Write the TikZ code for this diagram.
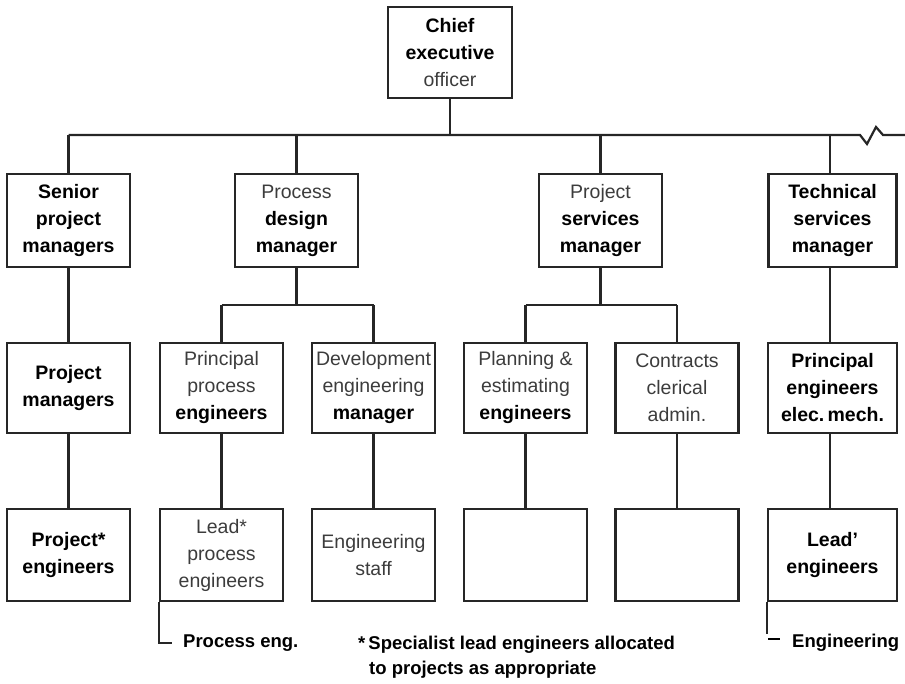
\documentclass[tikz,border=0pt]{standalone}
\usepackage{fontspec}
\setmainfont{Liberation Sans}
\definecolor{ink}{HTML}{262626}
\definecolor{faded}{HTML}{3C3C3C}
% lighter, regular-weight words as printed
\newcommand\lite[1]{{\mdseries\color{faded}#1}}
\begin{document}
\begin{tikzpicture}[x=1pt,y=-1pt,
  box/.style={draw=ink, line width=2.8pt, minimum width=123pt, minimum height=91pt,
    inner sep=0pt, align=center, text=black,
    font=\fontsize{19.5}{27}\selectfont\bfseries},
  wire/.style={draw=ink, line width=2.2pt},
  note/.style={anchor=west, inner sep=3pt, text=black, align=left,
    font=\fontsize{18.5}{25}\selectfont\bfseries},
]
\useasboundingbox (0,0) rectangle (905,684);

% top
\node[box, minimum width=124pt] (ceo) at (450,52.5) {Chief\\executive\\\lite{officer}};

% first level
\node[box, minimum height=93pt] (sen) at (68.5,220.5) {Senior\\project\\managers};
\node[box, minimum height=93pt] (pdm) at (296.5,220.5) {\lite{Process}\\design\\manager};
\node[box, minimum height=93pt] (psm) at (600.5,220.5) {\lite{Project}\\services\\manager};
\node[box, minimum height=93pt, minimum width=128pt] (tsm) at (832.5,220.5) {Technical\\services\\manager};

% second level
\node[box, minimum height=90pt] (pm)  at (68.5,388) {Project\\managers};
\node[box, minimum height=90pt] (ppe) at (221.5,388) {\lite{Principal}\\\lite{process}\\engineers};
\node[box, minimum height=90pt] (dem) at (373.5,388) {\lite{Development}\\\lite{engineering}\\manager};
\node[box, minimum height=90pt] (pee) at (525.5,388) {\lite{Planning \&}\\\lite{estimating}\\engineers};
\node[box, minimum height=90pt] (cca) at (677,388) {\lite{Contracts}\\\lite{clerical}\\\lite{admin.}};
\node[box, minimum height=90pt, minimum width=129pt] (pem) at (832.5,388) {Principal\\engineers\\elec.\,mech.};

% third level
\node[box, minimum height=92pt] (pen) at (68.5,555) {Project*\\engineers};
\node[box, minimum height=92pt] (lpe) at (221.5,555) {\lite{Lead*}\\\lite{process}\\\lite{engineers}};
\node[box, minimum height=92pt] (est) at (373.5,555) {\lite{Engineering}\\\lite{staff}};
\node[box, minimum height=92pt] (bl1) at (525.5,555) {};
\node[box, minimum height=92pt] (bl2) at (677,555) {};
\node[box, minimum height=92pt, minimum width=129pt] (len) at (832.5,555) {Lead'\\engineers};

% main bus with break mark at the right
\coordinate (bus) at (0,135);
\coordinate (brk) at (860,135);
\coordinate (busend) at (905,135);
\draw[wire] (ceo.south) -- (ceo.south |- bus);
\draw[wire, line join=miter] (sen.north |- bus) -- (brk) -- ++(7,9) -- ++(9,-17) -- ++(7,8) -- (busend);
\foreach \n in {sen,pdm,psm} \draw[wire] (\n.north) -- (\n.north |- bus);
\draw[wire] ([xshift=-2.5pt]tsm.north) -- ([xshift=-2.5pt]tsm.north |- bus);

% department branches
\coordinate (pbus) at (0,305);
\draw[wire] (pdm.south) -- (pdm.south |- pbus);
\draw[wire] (ppe.north |- pbus) -- (dem.north |- pbus);
\draw[wire] (ppe.north) -- (ppe.north |- pbus);
\draw[wire] (dem.north) -- (dem.north |- pbus);
\draw[wire] (psm.south) -- (psm.south |- pbus);
\draw[wire] (pee.north |- pbus) -- (cca.north |- pbus);
\draw[wire] (pee.north) -- (pee.north |- pbus);
\draw[wire] (cca.north) -- (cca.north |- pbus);
\draw[wire] (sen) -- (pm);
\draw[wire] ([xshift=-2.5pt]tsm.south) -- ([xshift=-2.5pt]pem.north);

% down to third level
\draw[wire] (pm) -- (pen);
\draw[wire] (ppe) -- (lpe);
\draw[wire] (dem) -- (est);
\draw[wire] (pee) -- (bl1);
\draw[wire] (cca) -- (bl2);
\draw[wire] ([xshift=-2.5pt]pem.south) -- ([xshift=-2.5pt]len.north);

% side notes
\node[note] (peng) at (180,643) {Process eng.};
\draw[wire] (lpe.south west) |- ([xshift=-8pt]peng.west);
\node[note] (eng) at (789,643) {Engineering};
\draw[wire] (len.south west) -- ++(0,32);
\draw[draw=black, line width=2.6pt] ([shift={(-21,-4)}]eng.west) -- ([shift={(-9,-4)}]eng.west);
\node[note] (foot) at (355,657) {*\,Specialist lead engineers allocated\\\hspace*{11pt}to projects as appropriate};
\end{tikzpicture}
\end{document}
